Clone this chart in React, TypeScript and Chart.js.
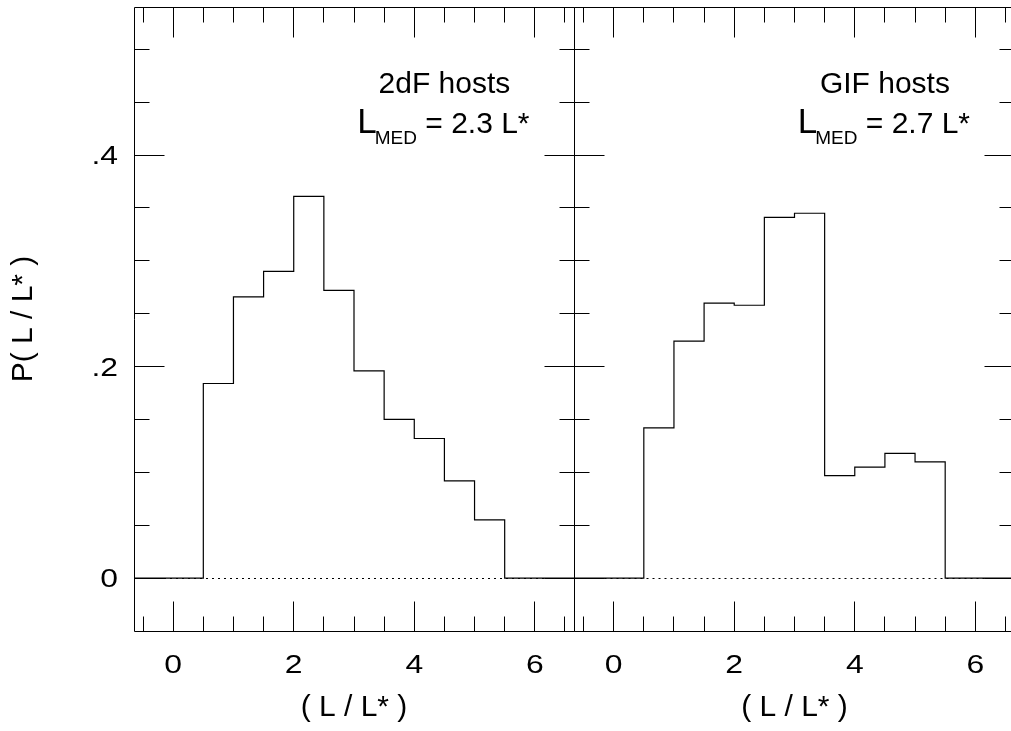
import React, { useEffect, useRef } from 'react';
import { Chart, registerables } from 'chart.js';

Chart.register(...registerables);

// ---- data ----
const binStarts = [0.5, 1.0, 1.5, 2.0, 2.5, 3.0, 3.5, 4.0, 4.5, 5.0];
const binWidth = 0.5;
const twodfValues = [0.184, 0.266, 0.29, 0.361, 0.272, 0.196, 0.15, 0.132, 0.092, 0.055];
const gifValues = [0.142, 0.224, 0.26, 0.258, 0.341, 0.345, 0.097, 0.105, 0.118, 0.11];
const xTickValues = [0, 2, 4, 6];
const yTickValues = [0, 0.2, 0.4];
const panelNames = ['2dF hosts', 'GIF hosts'];
const medianValues = ['2.3', '2.7'];
const xAxisTitle = '( L / L* )';
const yAxisTitle = 'P( L / L* )';

const X_MIN = -0.65;
const X_MAX = 6.65;
const Y_MIN = -0.05;
const Y_MAX = 0.54;

const FONT = '"Liberation Sans", Arial, Helvetica, sans-serif';
const TICK_FONT = `25.5px ${FONT}`;
const TICK_STRETCH = 1.25;

const fmtY = (v: number) => (v === 0 ? '0' : v.toFixed(1).replace(/^0/, ''));

function histPoints(values: number[]) {
  const pts = [{ x: X_MIN, y: 0 }];
  binStarts.forEach((s, i) => pts.push({ x: s, y: values[i] }));
  pts.push({ x: binStarts[binStarts.length - 1] + binWidth, y: 0 });
  pts.push({ x: X_MAX, y: 0 });
  return pts;
}

function makeFramePlugin(name: string, median: string, showY: boolean) {
  return {
    id: 'frame_' + name.replace(/\s/g, ''),
    beforeDatasetsDraw(chart: any) {
      const { ctx, chartArea, scales } = chart;
      const y0 = Math.floor(scales.y.getPixelForValue(0)) + 0.5;
      ctx.save();
      ctx.strokeStyle = '#000';
      ctx.lineWidth = 1;
      ctx.setLineDash([2, 4]);
      ctx.beginPath();
      ctx.moveTo(chartArea.left, y0);
      ctx.lineTo(chartArea.right, y0);
      ctx.stroke();
      ctx.restore();
    },
    afterDraw(chart: any) {
      const { ctx, chartArea, scales } = chart;
      const xs = scales.x;
      const ys = scales.y;
      const L = Math.floor(chartArea.left) + 0.5;
      const R = Math.floor(chartArea.right) + 0.5;
      const T = Math.floor(chartArea.top) + 0.5;
      const B = Math.floor(chartArea.bottom) + 0.5;
      ctx.save();
      ctx.strokeStyle = '#000';
      ctx.lineWidth = 1;
      ctx.beginPath();
      ctx.rect(L, T, R - L, B - T);
      ctx.stroke();
      // x ticks (major every 2, minor every 0.5)
      ctx.beginPath();
      for (let i = -1; i <= 13; i++) {
        const v = i * 0.5;
        const len = i % 4 === 0 ? 30 : 15;
        const px = Math.floor(xs.getPixelForValue(v)) + 0.5;
        if (px < L || px > R) continue;
        ctx.moveTo(px, B);
        ctx.lineTo(px, B - len);
        ctx.moveTo(px, T);
        ctx.lineTo(px, T + len);
      }
      // y ticks (major every 0.2, minor every 0.05)
      for (let i = 0; i <= 10; i++) {
        const v = i * 0.05;
        const len = i % 4 === 0 ? 30 : 15;
        const py = Math.floor(ys.getPixelForValue(v)) + 0.5;
        ctx.moveTo(L, py);
        ctx.lineTo(L + len, py);
        ctx.moveTo(R, py);
        ctx.lineTo(R - len, py);
      }
      ctx.stroke();

      // tick labels (slightly wide face, as in the original)
      ctx.fillStyle = '#000';
      ctx.font = TICK_FONT;
      ctx.textBaseline = 'alphabetic';
      ctx.textAlign = 'center';
      xTickValues.forEach((v) => {
        ctx.save();
        ctx.translate(xs.getPixelForValue(v), chartArea.bottom + 42.3);
        ctx.scale(TICK_STRETCH, 1);
        ctx.fillText(String(v), 0, 0);
        ctx.restore();
      });
      if (showY) {
        ctx.textAlign = 'right';
        yTickValues.forEach((v) => {
          ctx.save();
          ctx.translate(chartArea.left - 16, ys.getPixelForValue(v) + 9.3);
          ctx.scale(TICK_STRETCH, 1);
          ctx.fillText(fmtY(v), 0, 0);
          ctx.restore();
        });
      }

      // annotation
      const cx = xs.getPixelForValue(4.5);
      const yb1 = ys.getPixelForValue(0.459);
      const yb2 = ys.getPixelForValue(0.4205);
      ctx.textBaseline = 'alphabetic';
      ctx.textAlign = 'center';
      ctx.font = `30px ${FONT}`;
      ctx.fillText(name, cx, yb1);
      ctx.textAlign = 'left';
      const bigFont = `35px ${FONT}`;
      const subFont = `19px ${FONT}`;
      const mainFont = `30px ${FONT}`;
      const rest = ` = ${median} L*`;
      ctx.font = bigFont;
      const wL = ctx.measureText('L').width;
      ctx.font = subFont;
      const wSub = ctx.measureText('MED').width;
      ctx.font = mainFont;
      const wRest = ctx.measureText(rest).width;
      let x0 = cx - (wL + wSub + wRest) / 2;
      ctx.font = bigFont;
      ctx.fillText('L', x0, yb2);
      x0 += wL - 2;
      ctx.font = subFont;
      ctx.fillText('MED', x0, yb2 + 11);
      x0 += wSub;
      ctx.font = mainFont;
      ctx.fillText(rest, x0, yb2);
      ctx.restore();
    },
  };
}

function buildChart(canvas: HTMLCanvasElement, values: number[], idx: number, showY: boolean, padding: any) {
  return new Chart(canvas, {
    type: 'line',
    data: {
      datasets: [
        {
          data: histPoints(values),
          borderColor: '#000',
          borderWidth: 1.2,
          stepped: 'before',
          pointRadius: 0,
          fill: false,
        },
      ],
    },
    options: {
      responsive: false,
      animation: false,
      events: [],
      layout: { padding },
      plugins: { legend: { display: false }, tooltip: { enabled: false } },
      scales: {
        x: {
          type: 'linear',
          min: X_MIN,
          max: X_MAX,
          grid: { display: false, drawTicks: false },
          border: { display: false },
          afterBuildTicks: (s: any) => {
            s.ticks = xTickValues.map((v) => ({ value: v }));
          },
          afterFit: (s: any) => {
            s.height = 100;
            s.paddingLeft = 0;
            s.paddingRight = 0;
          },
          ticks: { display: false },
          title: {
            display: true,
            text: xAxisTitle,
            font: { family: FONT, size: 30 },
            color: '#000',
            padding: { top: 0, bottom: 5 },
          },
        },
        y: {
          type: 'linear',
          display: showY,
          min: Y_MIN,
          max: Y_MAX,
          grid: { display: false, drawTicks: false },
          border: { display: false },
          afterBuildTicks: (s: any) => {
            s.ticks = yTickValues.map((v) => ({ value: v }));
          },
          afterFit: (s: any) => {
            if (showY) s.width = 134;
            s.paddingTop = 0;
            s.paddingBottom = 0;
          },
          ticks: { display: false },
          title: {
            display: true,
            text: yAxisTitle,
            font: { family: FONT, size: 30 },
            color: '#000',
            padding: { top: 6, bottom: 0 },
          },
        },
      },
    },
    plugins: [makeFramePlugin(panelNames[idx], medianValues[idx], showY)],
  } as any);
}

export default function App() {
  const leftRef = useRef<HTMLCanvasElement>(null);
  const rightRef = useRef<HTMLCanvasElement>(null);

  useEffect(() => {
    const c1 = buildChart(leftRef.current!, twodfValues, 0, true, { top: 7, left: 0, right: 1, bottom: 0 });
    const c2 = buildChart(rightRef.current!, gifValues, 1, false, { top: 7, left: 0.5, right: 5.5, bottom: 0 });
    return () => {
      c1.destroy();
      c2.destroy();
    };
  }, []);

  return (
    <div
      style={{
        position: 'fixed',
        left: 0,
        top: 0,
        width: 1011,
        height: 731,
        overflow: 'hidden',
        background: '#fff',
      }}
    >
      <canvas ref={leftRef} width={575} height={731} style={{ position: 'absolute', left: 0, top: 0 }} />
      <canvas ref={rightRef} width={446} height={731} style={{ position: 'absolute', left: 574, top: 0 }} />
    </div>
  );
}
